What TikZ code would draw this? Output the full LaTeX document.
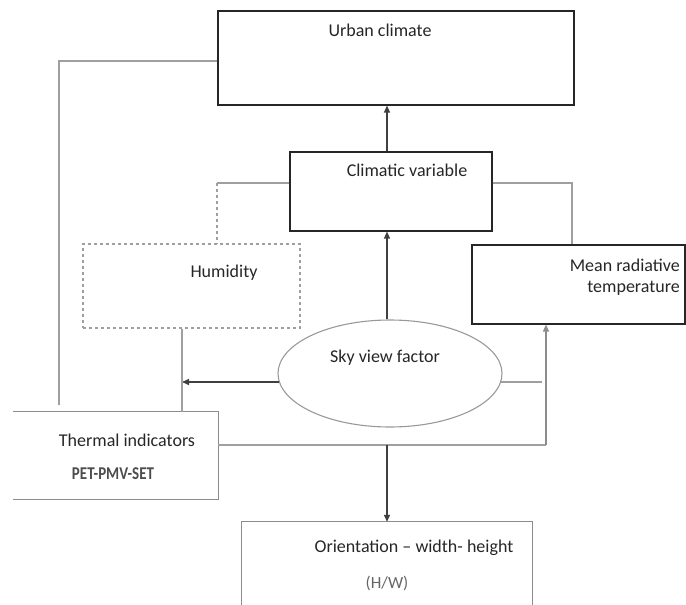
\documentclass[tikz,border=0pt]{standalone}
\usepackage{fontspec}
\setmainfont{Carlito}
\usetikzlibrary{arrows.meta,calc,shapes.geometric}
\begin{document}
\begin{tikzpicture}[x=1pt,y=-1pt,
  box/.style={draw=black!85,line width=1.1pt,inner sep=0,rectangle},
  dbox/.style={draw=gray!75,line width=1.1pt,dashed,inner sep=0,rectangle},
  conn/.style={draw=gray!75,line width=1.3pt},
  dconn/.style={draw=gray!75,line width=1.3pt,dashed},
  arr/.style={draw=black!75,line width=1.3pt,-{Triangle[length=7pt,width=6pt]}},
  lbl/.style={font=\fontsize{18}{21}\selectfont,text=black!85,inner sep=0}]
\useasboundingbox (0,0) rectangle (686,605);
% boxes
\node[box,minimum width=356pt,minimum height=94pt] (urban) at (396,58) {};
\node[box,minimum width=202pt,minimum height=79pt] (clim) at (391,191.5) {};
\node[dbox,minimum width=217pt,minimum height=84pt] (hum) at (191.5,286) {};
\node[box,minimum width=213pt,minimum height=79pt] (mrt) at (578.5,284.5) {};
\node[ellipse,draw=gray!80,line width=1.1pt,minimum width=224pt,minimum height=107pt,inner sep=0] (svf) at (390,373.5) {};
\node[rectangle,minimum width=205pt,minimum height=87pt,inner sep=0] (therm) at (115.5,455.5) {};
\draw[draw=gray!90,line width=1.1pt] (therm.north west) -- (therm.north east) -- (therm.south east) -- (therm.south west);
\node[rectangle,minimum width=290pt,minimum height=90pt,inner sep=0] (orient) at (387,567) {};
\coordinate (obot) at (0,605);
\draw[draw=gray!90,line width=1.1pt] (orient.north west |- obot) -- (orient.north west) -- (orient.north east) -- (orient.north east |- obot);
% texts
\node[lbl] (tu) at (380,30) {Urban climate};
\node[lbl] (tc) at (407,170) {Climatic variable};
\node[lbl] (th) at (224,273) {Humidity};
\node[lbl,anchor=east] (tm1) at (680,265) {Mean radiative};
\node[lbl,anchor=east] (tm2) at (680,288) {temperature};
\node[lbl] (ts) at (385,358) {Sky view factor};
\node[lbl] (tt) at (127,440) {Thermal indicators};
\node[lbl,font=\fontsize{15}{18}\selectfont\bfseries,text=black!70] (tp) at (113,474) {\scalebox{1}[1.2]{PET-PMV-SET}};
\node[lbl] (to) at (414,548) {Orientation -- width- height};
\node[lbl,font=\fontsize{17}{20}\selectfont,text=black!60] (thw) at (387,583) {(H/W)};
% helper coordinates
\coordinate (xa) at (387,0);
\coordinate (xl) at (59,0);
\coordinate (ya) at (0,61);
\coordinate (tiEnd) at (59,405);
\coordinate (yc) at (0,183);
\coordinate (xh) at (217,0);
\coordinate (xm) at (572,0);
\coordinate (xv) at (182,0);
\coordinate (yv) at (0,382);
\coordinate (yt) at (0,445);
\coordinate (xr) at (546,0);
\coordinate (svfR) at (542,382);
% connectors
\draw[arr] (clim.north -| xa) -- (urban.south -| xa);
\draw[conn] (urban.west |- ya) -- (xl |- ya) -- (tiEnd);
\draw[conn] (clim.west |- yc) -- (xh |- yc);
\draw[dconn] (xh |- yc) -- (hum.north -| xh);
\draw[conn] (clim.east |- yc) -- (xm |- yc) -- (mrt.north -| xm);
\draw[arr] (svf.north -| xa) -- (clim.south -| xa);
\draw[arr] ($(svf.west)+(1.5,8.5)$) -- (xv |- yv);
\draw[conn] (hum.south -| xv) -- (therm.north -| xv);
\draw[conn] (therm.east |- yt) -- (xr |- yt);
\draw[arr,draw=gray!90] (xr |- yt) -- (mrt.south -| xr);
\draw[conn] ($(svf.east)+(-1.5,8.5)$) -- (svfR);
\draw[arr] (xa |- yt) -- (orient.north -| xa);
\end{tikzpicture}
\end{document}
